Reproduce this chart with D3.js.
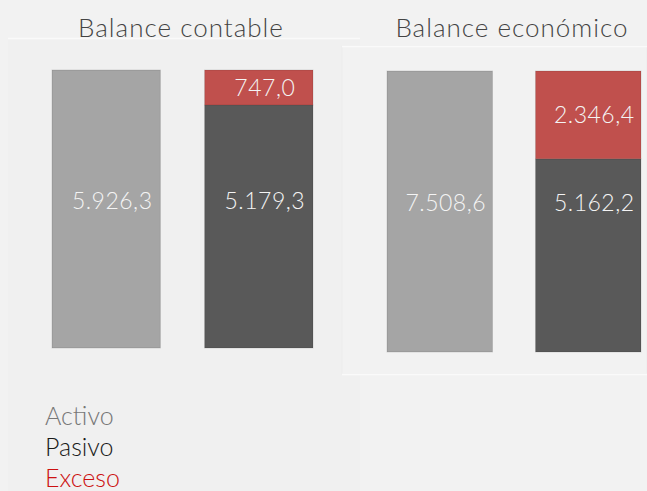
<!DOCTYPE html>
<html>
<head>
<meta charset="utf-8">
<script src="https://cdn.jsdelivr.net/npm/d3@7"></script>
<style>
  html, body { margin: 0; padding: 0; background: #f2f2f2; }
  svg { display: block; font-family: Lato, "Open Sans", sans-serif; font-weight: 300; }
</style>
</head>
<body>
<svg id="chart" width="647" height="491"></svg>
<script>
// chart values
const titles = ["Balance contable", "Balance económico"];
const series = ["Activo", "Pasivo"];
const activo = [5926.3, 7508.6];
const pasivo = [5179.3, 5162.2];
const exceso = [747.0, 2346.4];
const legendLabels = ["Activo", "Pasivo", "Exceso"];

const colors = { Activo: "#a5a5a5", Pasivo: "#595959", Exceso: "#c0504d" };
const legendColors = ["#777777", "#1a1a1a", "#cc1111"];

// layout of the two panels
const panels = [
  { x0: 52, x1: 313, top: 70, bottom: 348, titleX: 181 },
  { x0: 387, x1: 641, top: 71, bottom: 352, titleX: 512 }
];

const fmt = d3.formatLocale({ decimal: ",", thousands: ".", grouping: [3], currency: ["", "€"] }).format(",.1f");

const svg = d3.select("#chart");

// background panels
svg.append("rect").attr("x", 8).attr("y", 38).attr("width", 352).attr("height", 453)
  .attr("fill", "#f0f0f0");
svg.append("line").attr("x1", 8).attr("x2", 360).attr("y1", 38.5).attr("y2", 38.5)
  .attr("stroke", "#fafafa").attr("stroke-width", 1.5);
svg.append("rect").attr("x", 342).attr("y", 46).attr("width", 305).attr("height", 328)
  .attr("fill", "#f2f2f2").attr("stroke", "#ececec").attr("stroke-width", 1);
svg.append("line").attr("x1", 342).attr("x2", 647).attr("y1", 46.5).attr("y2", 46.5)
  .attr("stroke", "#fafafa").attr("stroke-width", 1.5);
svg.append("line").attr("x1", 342).attr("x2", 647).attr("y1", 374.5).attr("y2", 374.5)
  .attr("stroke", "#fafafa").attr("stroke-width", 1.5);

panels.forEach((p, i) => {
  const g = svg.append("g");

  const x = d3.scaleBand().domain(series).range([p.x0, p.x1]).paddingInner(0.29).paddingOuter(0);
  const y = d3.scaleLinear().domain([0, activo[i]]).range([p.bottom, p.top]);

  // title
  g.append("text")
    .attr("x", p.titleX).attr("y", 37)
    .attr("text-anchor", "middle")
    .attr("font-size", 26).attr("letter-spacing", 1).attr("fill", "#444")
    .text(titles[i]);

  const segs = [
    { key: "Activo", y0: 0, y1: activo[i], v: activo[i] },
    { key: "Pasivo", y0: 0, y1: pasivo[i], v: pasivo[i] },
    { key: "Exceso", col: "Pasivo", y0: pasivo[i], y1: pasivo[i] + exceso[i], v: exceso[i] }
  ];

  g.selectAll("rect.bar")
    .data(segs)
    .join("rect")
    .attr("class", "bar")
    .attr("x", d => x(d.col || d.key))
    .attr("width", x.bandwidth())
    .attr("y", d => y(d.y1))
    .attr("height", d => y(d.y0) - y(d.y1))
    .attr("fill", d => colors[d.key])
    .attr("stroke", "rgba(0,0,0,0.12)")
    .attr("stroke-width", 1);

  // value labels: main bars near the middle, excess in its own segment
  g.selectAll("text.val")
    .data(segs)
    .join("text")
    .attr("class", "val")
    .attr("x", d => x(d.col || d.key) + x.bandwidth() / 2 + 6)
    .attr("y", d => d.key === "Exceso" ? y((d.y0 + d.y1) / 2) : y(activo[i] * 0.53))
    .attr("dy", "0.35em")
    .attr("text-anchor", "middle")
    .attr("font-size", 23)
    .attr("letter-spacing", 0.5)
    .attr("fill", "#f4f4f4")
    .text(d => fmt(d.v));
});

// legend
svg.append("g").selectAll("text")
  .data(legendLabels)
  .join("text")
  .attr("x", 45)
  .attr("y", (d, i) => 416 + i * 31)
  .attr("dy", "0.35em")
  .attr("font-size", 25)
  .attr("fill", (d, i) => legendColors[i])
  .text(d => d);
</script>
</body>
</html>
